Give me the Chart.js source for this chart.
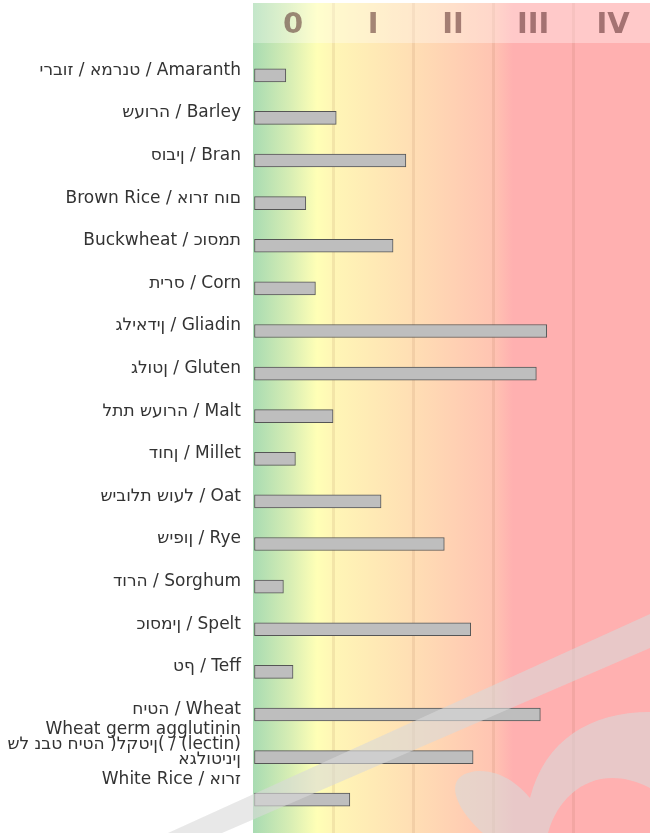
<!DOCTYPE html>
<html>
<head>
<meta charset="utf-8">
<script src="https://cdn.jsdelivr.net/npm/chart.js@4/dist/chart.umd.min.js"></script>
<style>
  html, body { margin: 0; padding: 0; background: #fff; }
  #wrap { width: 650px; height: 833px; }
</style>
</head>
<body>
<div id="wrap"><canvas id="barChart"></canvas></div>
<script>
// trailing empty lines only push the multi-line labels up like in the original
const grains = [
  "ירבוז / אמרנט / Amaranth",
  "שעורה / Barley",
  "סובין / Bran",
  "Brown Rice / אורז חום",
  "Buckwheat / כוסמת",
  "תירס / Corn",
  "גליאדין / Gliadin",
  "גלוטן / Gluten",
  "לתת שעורה / Malt",
  "דוחן / Millet",
  "שיבולת שועל / Oat",
  "שיפון / Rye",
  "דורה / Sorghum",
  "כוסמין / Spelt",
  "טף / Teff",
  "חיטה / Wheat",
  ["Wheat germ agglutinin", "של נבט חיטה )לקטין( / (lectin)", "אגלוטינין", ""],
  ["White Rice / אורז", "", ""],
];
const reactivity = [0.41, 1.04, 1.91, 0.66, 1.75, 0.78, 3.67, 3.54, 1.0, 0.53, 1.6, 2.39, 0.38, 2.72, 0.5, 3.59, 2.75, 1.21];
const zoneNames = ["0", "I", "II", "III", "IV"];
const zoneStarts = [0, 1, 2, 3, 4];
const xMax = 4.96;

const bgStops = [
  [0, "rgb(168,219,178)"],
  [0.45, "rgb(214,237,180)"],
  [0.8, "rgb(255,255,182)"],
  [1, "rgb(255,246,182)"],
  [2, "rgb(255,222,180)"],
  [3, "rgb(255,196,178)"],
  [3.25, "rgb(255,176,176)"],
  [xMax, "rgb(255,176,176)"],
];

// the original drew the hebrew glyphs in stored order, left to right
const ltr = (s) => (s ? "\u202D" + s + "\u202C" : s);

const gridColor = (c) => (c.tick && c.tick.value > 0 ? "rgba(140,80,50,0.1)" : "rgba(0,0,0,0)");

const zoneBackground = {
  id: "zoneBackground",
  beforeDraw(chart) {
    const { ctx, chartArea } = chart;
    const grad = ctx.createLinearGradient(chartArea.left, 0, chartArea.right, 0);
    bgStops.forEach(([v, c]) => grad.addColorStop(v / xMax, c));
    ctx.save();
    ctx.fillStyle = grad;
    ctx.fillRect(chartArea.left, 3, chartArea.right - chartArea.left, chart.height - 3);
    ctx.restore();
  },
  beforeDatasetsDraw(chart) {
    // lighter header strip behind the class numerals
    const { ctx, chartArea } = chart;
    ctx.save();
    ctx.fillStyle = "rgba(255,255,255,0.32)";
    ctx.fillRect(chartArea.left, 3, chartArea.right - chartArea.left, 40);
    ctx.restore();
  },
};

// faint logo watermark over the chart
const watermark = {
  id: "watermark",
  afterDraw(chart) {
    const { ctx } = chart;
    ctx.save();
    ctx.fillStyle = "rgba(216,216,216,0.6)";
    ctx.beginPath();
    ctx.moveTo(168, 833);
    ctx.lineTo(650, 614);
    ctx.lineTo(650, 648);
    ctx.lineTo(222, 833);
    ctx.closePath();
    ctx.fill();

    ctx.beginPath();
    ctx.moveTo(483, 833);
    ctx.bezierCurveTo(455, 808, 440, 774, 478, 771);
    ctx.bezierCurveTo(503, 770, 522, 788, 530, 798);
    ctx.bezierCurveTo(545, 740, 590, 712, 650, 712);
    ctx.lineTo(650, 788);
    ctx.bezierCurveTo(600, 762, 560, 790, 548, 833);
    ctx.closePath();
    ctx.fill();
    ctx.restore();
  },
};

new Chart(document.getElementById("barChart"), {
  type: "bar",
  data: {
    labels: grains,
    datasets: [
      {
        data: reactivity,
        backgroundColor: "#bebebe",
        borderColor: "#555",
        borderWidth: 1,
        borderSkipped: false,
        barThickness: 13,
      },
    ],
  },
  options: {
    indexAxis: "y",
    responsive: true,
    maintainAspectRatio: false,
    animation: false,
    layout: { padding: 0 },
    plugins: {
      legend: { display: false },
      tooltip: { enabled: false },
    },
    scales: {
      x: {
        type: "linear",
        position: "bottom",
        min: 0,
        max: xMax,
        afterBuildTicks: (s) => { s.ticks = zoneStarts.map((v) => ({ value: v })); },
        afterFit: (s) => { s.height = 12; s.paddingLeft = 0; s.paddingRight = 0; },
        grid: { drawOnChartArea: false, drawTicks: true, tickLength: 12, lineWidth: 3, color: gridColor },
        border: { display: false },
        ticks: { display: false },
      },
      x2: {
        type: "linear",
        position: "top",
        min: 0,
        max: xMax,
        afterBuildTicks: (s) => { s.ticks = zoneStarts.map((v) => ({ value: v })); },
        afterFit: (s) => { s.height = 54; s.paddingLeft = 0; s.paddingRight = 0; },
        grid: { drawTicks: true, tickLength: 51, lineWidth: 3, color: gridColor },
        border: { display: false },
        ticks: {
          callback: (v, i) => zoneNames[i],
          autoSkip: false,
          maxRotation: 0,
          labelOffset: 40,
          padding: -37,
          z: 1,
          color: "rgba(80,35,35,0.52)",
          font: { family: "DejaVu Sans", size: 29, weight: "bold", lineHeight: 1 },
        },
      },
      y: {
        type: "category",
        afterFit: (s) => { s.width = 253; s.paddingTop = 0; s.paddingBottom = 0; },
        grid: { display: false, drawTicks: false },
        border: { display: false },
        ticks: {
          autoSkip: false,
          padding: 12,
          labelOffset: -5,
          color: "#333",
          font: { family: "DejaVu Sans", size: 17, lineHeight: "15px" },
          callback: function (v) {
            const l = this.getLabelForValue(v);
            return Array.isArray(l) ? l.map(ltr) : ltr(l);
          },
        },
      },
    },
  },
  plugins: [zoneBackground, watermark],
});
</script>
</body>
</html>
